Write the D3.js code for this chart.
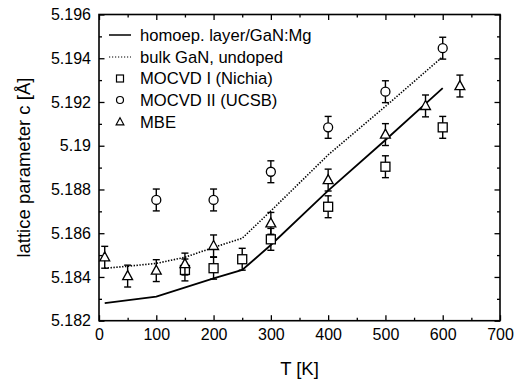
<!DOCTYPE html>
<html>
<head>
<meta charset="utf-8">
<script src="https://cdn.jsdelivr.net/npm/d3@7"></script>
<style>
  body { margin: 0; background: #fff; }
  svg { display: block; font-family: "Liberation Sans", Arial, sans-serif; }
</style>
</head>
<body>
<svg></svg>
<script>
// lines
let tempsHomo = [10, 100, 200, 250, 300, 400, 500, 600];
let cHomo = [5.1828, 5.1831, 5.18394, 5.18432, 5.18546, 5.18795, 5.19026, 5.19263];
let tempsBulk = [10, 50, 100, 150, 200, 250, 300, 400, 500, 600];
let cBulk = [5.1844, 5.18449, 5.18462, 5.1849, 5.18535, 5.18577, 5.18702, 5.18958, 5.19180, 5.19407];

// measured points
let tempsNichia = [150, 200, 250, 300, 400, 500, 600];
let cNichia = [5.18432, 5.1844, 5.18481, 5.18572, 5.18721, 5.18904, 5.19084];
let errNichia = [0.0005, 0.0005, 0.0005, 0.0005, 0.0005, 0.0005, 0.0005];

let tempsUcsb = [100, 200, 300, 400, 500, 600];
let cUcsb = [5.18752, 5.18752, 5.18881, 5.19084, 5.19247, 5.19446];
let errUcsb = [0.0005, 0.0005, 0.0005, 0.0005, 0.0005, 0.0005];

let tempsMbe = [10, 50, 100, 150, 200, 300, 400, 500, 570, 630];
let cMbe = [5.1849, 5.18404, 5.18429, 5.18459, 5.18542, 5.18645, 5.18843, 5.19051, 5.19182, 5.19273];
let errMbe = [0.0005, 0.0005, 0.0005, 0.0005, 0.0005, 0.0005, 0.0005, 0.0005, 0.0005, 0.0005];

let legendLabels = ['homoep. layer/GaN:Mg', 'bulk GaN, undoped', 'MOCVD I (Nichia)', 'MOCVD II (UCSB)', 'MBE'];

let xTicks = [0, 100, 200, 300, 400, 500, 600, 700];
let xMinor = [50, 150, 250, 350, 450, 550, 650];
let yTicks = [5.182, 5.184, 5.186, 5.188, 5.19, 5.192, 5.194, 5.196];
let yMinor = [5.183, 5.185, 5.187, 5.189, 5.191, 5.193, 5.195];

let width = 514;
let height = 379;
let padLeft = 99, padRight = 500, padTop = 14.5, padBottom = 320.7;

let svg = d3.select('svg').attr('width', width).attr('height', height);

let xScale = d3.scaleLinear().domain([0, 700]).range([padLeft, padRight]);
let yScale = d3.scaleLinear().domain([5.182, 5.196]).range([padBottom, padTop]);

let yFmt = d => String(+d.toFixed(3));

// axes, ticks pointing inward on all four sides
let addAxis = (axis, tx, ty) => {
    let g = svg.append('g').attr('transform', `translate(${tx},${ty})`).call(axis);
    g.select('.domain').remove();
    g.selectAll('line').attr('stroke', '#000').attr('stroke-width', 1.3);
    g.selectAll('text').attr('fill', '#000').style('font-size', '16px');
    return g;
};

addAxis(d3.axisBottom(xScale).tickValues(xTicks).tickSizeInner(-5.5).tickSizeOuter(0).tickPadding(8.2), 0, padBottom);
addAxis(d3.axisBottom(xScale).tickValues(xMinor).tickSizeInner(-3).tickSizeOuter(0).tickFormat(''), 0, padBottom);
addAxis(d3.axisTop(xScale).tickValues(xTicks).tickSizeInner(-5.5).tickSizeOuter(0).tickFormat(''), 0, padTop);
addAxis(d3.axisTop(xScale).tickValues(xMinor).tickSizeInner(-3).tickSizeOuter(0).tickFormat(''), 0, padTop);
addAxis(d3.axisLeft(yScale).tickValues(yTicks).tickSizeInner(-5.5).tickSizeOuter(0).tickPadding(8).tickFormat(yFmt), padLeft, 0);
addAxis(d3.axisLeft(yScale).tickValues(yMinor).tickSizeInner(-3).tickSizeOuter(0).tickFormat(''), padLeft, 0);
addAxis(d3.axisRight(yScale).tickValues(yTicks).tickSizeInner(-5.5).tickSizeOuter(0).tickFormat(''), padRight, 0);
addAxis(d3.axisRight(yScale).tickValues(yMinor).tickSizeInner(-3).tickSizeOuter(0).tickFormat(''), padRight, 0);

svg.append('rect')
   .attr('x', padLeft).attr('y', padTop)
   .attr('width', padRight - padLeft).attr('height', padBottom - padTop)
   .attr('fill', 'none').attr('stroke', '#000').attr('stroke-width', 1.6);

// axis titles
svg.append('text')
   .attr('x', (padLeft + padRight) / 2).attr('y', 375)
   .attr('text-anchor', 'middle')
   .style('font-size', '18.5px')
   .text('T [K]');

svg.append('text')
   .attr('transform', `translate(30,${(padTop + padBottom) / 2}) rotate(-90)`)
   .attr('text-anchor', 'middle')
   .style('font-size', '18.5px')
   .text('lattice parameter c [Å]');

// curves
let line = d3.line().x(d => xScale(d[0])).y(d => yScale(d[1]));

svg.append('path')
   .datum(d3.zip(tempsBulk, cBulk))
   .attr('d', line)
   .attr('fill', 'none').attr('stroke', '#000')
   .attr('stroke-width', 1.6).attr('stroke-dasharray', '1.4,1.5');

svg.append('path')
   .datum(d3.zip(tempsHomo, cHomo))
   .attr('d', line)
   .attr('fill', 'none').attr('stroke', '#000')
   .attr('stroke-width', 1.8);

// markers
let square = (g, s) => g.append('rect').attr('x', -s / 2).attr('y', -s / 2).attr('width', s).attr('height', s);
let circle = (g, s) => g.append('circle').attr('r', s / 2);
let triangle = (g, s) => g.append('path').attr('d', `M0,${-s * 0.6}L${s * 0.55},${s * 0.4}L${-s * 0.55},${s * 0.4}Z`);

let drawSeries = (temps, vals, errs, shape) => {
    let pts = d3.zip(temps, vals, errs);
    let g = svg.append('g');
    // error bars first
    pts.forEach(p => {
        let x = xScale(p[0]);
        let y1 = yScale(p[1] + p[2]);
        let y2 = yScale(p[1] - p[2]);
        let eb = g.append('g').attr('stroke', '#000').attr('stroke-width', 1.4);
        eb.append('line').attr('x1', x).attr('x2', x).attr('y1', y1).attr('y2', y2);
        eb.append('line').attr('x1', x - 3.5).attr('x2', x + 3.5).attr('y1', y1).attr('y2', y1);
        eb.append('line').attr('x1', x - 3.5).attr('x2', x + 3.5).attr('y1', y2).attr('y2', y2);
    });
    pts.forEach(p => {
        let m = g.append('g').attr('transform', `translate(${xScale(p[0])},${yScale(p[1])})`);
        shape(m, 9).attr('fill', '#fff').attr('stroke', '#000').attr('stroke-width', 1.3);
    });
};

drawSeries(tempsNichia, cNichia, errNichia, square);
drawSeries(tempsUcsb, cUcsb, errUcsb, circle);
drawSeries(tempsMbe, cMbe, errMbe, triangle);

// legend
let legendY = [35, 57, 78.5, 100, 122];
let lg = svg.append('g');
lg.append('line').attr('x1', 109).attr('x2', 131).attr('y1', legendY[0]).attr('y2', legendY[0])
  .attr('stroke', '#000').attr('stroke-width', 1.5);
lg.append('line').attr('x1', 109).attr('x2', 131).attr('y1', legendY[1]).attr('y2', legendY[1])
  .attr('stroke', '#000').attr('stroke-width', 1.2).attr('stroke-dasharray', '1.2,1.8');
[square, circle, triangle].forEach((shape, i) => {
    let m = lg.append('g').attr('transform', `translate(120,${legendY[i + 2]})`);
    shape(m, 7).attr('fill', '#fff').attr('stroke', '#000').attr('stroke-width', 1.2);
});
lg.selectAll('text.leg')
  .data(legendLabels)
  .join('text')
  .attr('class', 'leg')
  .attr('x', 140)
  .attr('y', (d, i) => legendY[i])
  .attr('dy', '0.35em')
  .style('font-size', '16.6px')
  .text(d => d);
</script>
</body>
</html>
